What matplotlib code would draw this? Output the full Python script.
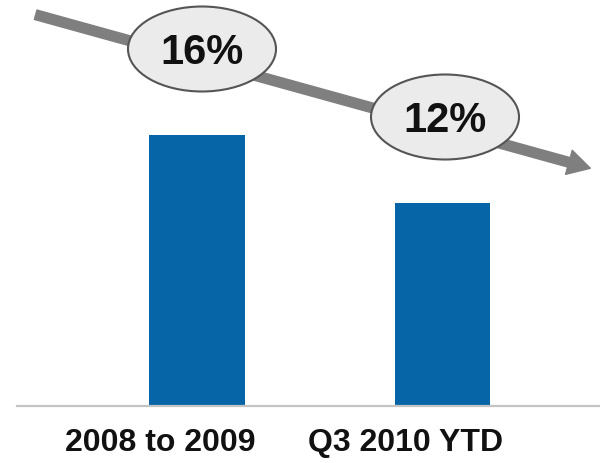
import matplotlib
matplotlib.use("Agg")
import matplotlib.pyplot as plt
from matplotlib.patches import Ellipse, FancyArrowPatch
from matplotlib.transforms import ScaledTranslation

categories = ["2008 to 2009", "Q3 2010 YTD"]
values = [16, 12]
value_labels = ["16%", "12%"]

plt.rcParams["font.family"] = ["Liberation Sans", "DejaVu Sans"]

fig = plt.figure(figsize=(6.0, 4.64), dpi=100)
ax = fig.add_axes([17 / 600, 57 / 464, 583 / 600, 407 / 464])

x = list(range(len(categories)))
ax.bar(x, values, width=0.388, color="#0565a6", zorder=2)

ax.set_xlim(-0.733, 1.642)
ax.set_ylim(0, 24.03)

for side in ("top", "right", "left"):
    ax.spines[side].set_visible(False)
ax.spines["bottom"].set_color("#c4c4c4")
ax.spines["bottom"].set_linewidth(1.6)
ax.set_yticks([])
ax.set_xticks(x)
ax.set_xticklabels(categories, fontsize=23, fontweight="bold", color="#111111")
ax.tick_params(axis="x", length=0, pad=15)
shift = ScaledTranslation(-37 / 100, 0, fig.dpi_scale_trans)
for lbl in ax.get_xticklabels():
    lbl.set_transform(lbl.get_transform() + shift)

# trend arrow across the top
arrow = FancyArrowPatch((0.33, 4.49), (5.93, 2.94), transform=fig.dpi_scale_trans,
                        arrowstyle="simple,head_width=0.9,head_length=0.8,tail_width=0.35",
                        mutation_scale=20, color="#7f7f7f", zorder=3)
fig.patches.append(arrow)

# value bubbles
bubble_pos = [(2.02, 4.14), (4.45, 3.46)]
for (cx, cy), txt in zip(bubble_pos, value_labels):
    e = Ellipse((cx, cy), 1.48, 0.85, transform=fig.dpi_scale_trans,
                facecolor="#ebebeb", edgecolor="#555555", linewidth=1.5, zorder=4)
    fig.patches.append(e)
    fig.text(cx / 6.0, (cy - 0.03) / 4.64, txt, ha="center", va="center",
             fontsize=30, fontweight="bold", color="#111111", zorder=5)

fig.savefig("out.png", dpi=100)
